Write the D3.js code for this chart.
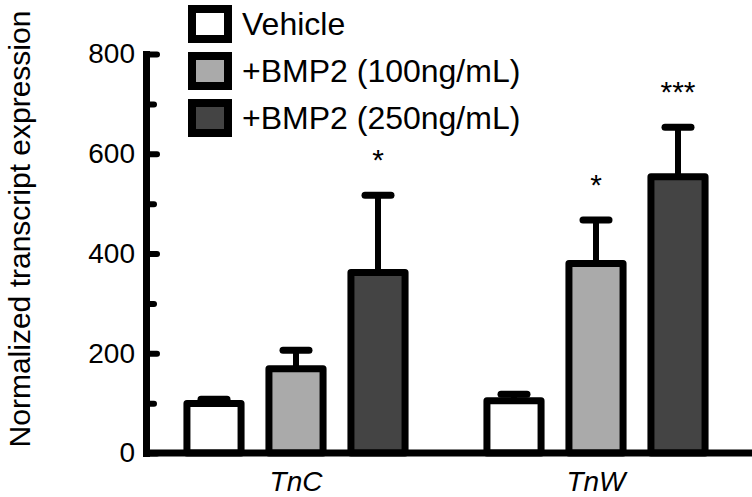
<!DOCTYPE html>
<html>
<head>
<meta charset="utf-8">
<script src="https://cdn.jsdelivr.net/npm/d3@7"></script>
<style>
  body { margin: 0; background: #fff; }
  svg { display: block; font-family: "Liberation Sans", Arial, sans-serif; }
</style>
</head>
<body>
<svg width="752" height="497"></svg>
<script>
// chart data
const genes = ['TnC', 'TnW'];
const series = ['Vehicle', '+BMP2 (100ng/mL)', '+BMP2 (250ng/mL)'];
const meanTnC = [99, 169, 362];
const meanTnW = [105, 380, 554];
const errTnC = [9, 37, 155];
const errTnW = [13, 87, 99];
const starsTnC = ['', '', '*'];
const starsTnW = ['', '*', '***'];
const majorTicks = [0, 200, 400, 600, 800];
const minorTicks = [100, 300, 500, 700];
const fills = ['#ffffff', '#aaaaaa', '#444444'];

const rows = [];
genes.forEach((g, gi) => {
    const means = gi === 0 ? meanTnC : meanTnW;
    const errs = gi === 0 ? errTnC : errTnW;
    const stars = gi === 0 ? starsTnC : starsTnW;
    series.forEach((s, si) => {
        rows.push({ gene: g, series: s, idx: si, mean: means[si], err: errs[si], star: stars[si] });
    });
});

const svg = d3.select('svg');

const y = d3.scaleLinear().domain([0, 800]).range([453, 54]);
const x0 = d3.scaleBand().domain(genes).range([146, 746]).padding(0);
const x1 = d3.scaleBand().domain(series).range([27, 273]).paddingInner(0.34).paddingOuter(0.17);

const axisX = 146.5;

// bars
const bar = svg.append('g').selectAll('g')
    .data(rows)
    .enter().append('g')
    .attr('transform', d => `translate(${x0(d.gene) + x1(d.series)},0)`);

// error bars (drawn first so the bar outline covers the stem base)
bar.append('line')
    .attr('x1', x1.bandwidth() / 2).attr('x2', x1.bandwidth() / 2)
    .attr('y1', d => y(d.mean)).attr('y2', d => y(d.mean + d.err))
    .attr('stroke', '#000').attr('stroke-width', 6);
bar.append('line')
    .attr('x1', x1.bandwidth() / 2 - 13).attr('x2', x1.bandwidth() / 2 + 13)
    .attr('y1', d => y(d.mean + d.err)).attr('y2', d => y(d.mean + d.err))
    .attr('stroke', '#000').attr('stroke-width', 7).attr('stroke-linecap', 'round');

bar.append('rect')
    .attr('x', 0)
    .attr('width', x1.bandwidth())
    .attr('y', d => y(d.mean))
    .attr('height', d => y(0) - y(d.mean))
    .attr('fill', d => fills[d.idx])
    .attr('stroke', '#000')
    .attr('stroke-width', 7)
    .attr('stroke-linejoin', 'round');

bar.append('text')
    .attr('x', x1.bandwidth() / 2)
    .attr('y', d => y(d.mean + d.err) - 25)
    .attr('text-anchor', 'middle')
    .attr('font-size', 30)
    .text(d => d.star);

// y axis
const gy = svg.append('g').attr('transform', `translate(${axisX - 0.5},0)`);
gy.call(d3.axisLeft(y).tickValues(majorTicks).tickSize(-11).tickSizeOuter(0).tickPadding(11));
gy.select('.domain').attr('stroke', '#000').attr('stroke-width', 7).attr('stroke-linecap', 'square');
gy.selectAll('.tick line').attr('stroke', '#000').attr('stroke-width', 6).attr('stroke-linecap', 'round');
gy.selectAll('.tick text').attr('font-size', 28).attr('fill', '#000')
    .attr('font-family', '"Liberation Sans", Arial, sans-serif');

const gm = svg.append('g').attr('transform', `translate(${axisX - 0.5},0)`);
gm.call(d3.axisLeft(y).tickValues(minorTicks).tickSize(-8).tickSizeOuter(0).tickFormat(''));
gm.select('.domain').remove();
gm.selectAll('.tick line').attr('stroke', '#000').attr('stroke-width', 6).attr('stroke-linecap', 'round');

// baseline
svg.append('line')
    .attr('x1', axisX - 3.5).attr('x2', 752)
    .attr('y1', y(0)).attr('y2', y(0))
    .attr('stroke', '#000').attr('stroke-width', 7);

// x labels
svg.append('g').selectAll('text')
    .data(genes)
    .enter().append('text')
    .attr('x', d => x0(d) + x0.bandwidth() / 2)
    .attr('y', 491)
    .attr('text-anchor', 'middle')
    .attr('font-size', 28)
    .attr('font-style', 'italic')
    .text(d => d);

// y title
svg.append('text')
    .attr('transform', 'translate(30,229) rotate(-90)')
    .attr('text-anchor', 'middle')
    .attr('font-size', 30)
    .text('Normalized transcript expression');

// legend
const leg = svg.append('g').selectAll('g')
    .data(series)
    .enter().append('g')
    .attr('transform', (d, i) => `translate(192,${9 + i * 47})`);
leg.append('rect')
    .attr('width', 36).attr('height', 30)
    .attr('fill', (d, i) => fills[i])
    .attr('stroke', '#000').attr('stroke-width', 8);
leg.append('text')
    .attr('x', 50).attr('y', 26)
    .attr('font-size', 32)
    .text(d => d);
</script>
</body>
</html>
